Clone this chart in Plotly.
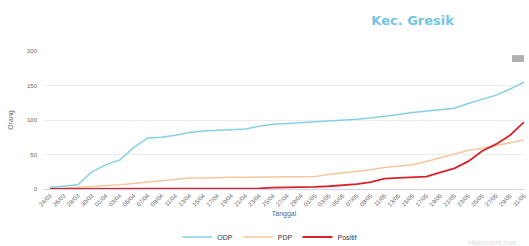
import plotly.graph_objects as go

tanggal = ["24/03", "26/03", "28/03", "30/03", "01/04", "03/04", "05/04", "07/04", "09/04",
           "11/04", "13/04", "15/04", "17/04", "19/04", "21/04", "23/04", "25/04", "27/04",
           "29/04", "01/05", "03/05", "05/05", "07/05", "09/05", "11/05", "13/05", "15/05",
           "17/05", "19/05", "21/05", "23/05", "25/05", "27/05", "29/05", "31/05"]

odp = [2, 4, 6, 25, 35, 42, 60, 74, 75, 78, 82, 84, 85, 86, 87, 91, 94, 95, 96, 97,
       98, 100, 101, 103, 105, 108, 111, 113, 115, 117, 124, 130, 136, 145, 155]
pdp = [0, 1, 2, 3, 4, 6, 8, 10, 13, 15, 16, 16, 17, 17, 17, 17, 17, 17, 17, 18,
       21, 23, 25, 28, 31, 33, 35, 40, 45, 50, 56, 59, 63, 68, 71]
positif = [0, 0, 0, 0, 0, 0, 0, 0, 0, 0, 0, 0, 0, 0, 0, 1, 2, 2, 3, 3,
           4, 5, 7, 10, 15, 16, 17, 18, 24, 30, 40, 55, 65, 78, 97]

fig = go.Figure()
fig.add_trace(go.Scatter(x=tanggal, y=odp, name="ODP", mode="lines",
                         line=dict(color="#86d0e6", width=1.5), cliponaxis=False))
fig.add_trace(go.Scatter(x=tanggal, y=pdp, name="PDP", mode="lines",
                         line=dict(color="#f6c79c", width=1.5), cliponaxis=False))
fig.add_trace(go.Scatter(x=tanggal, y=positif, name="Positif", mode="lines",
                         line=dict(color="#d8232a", width=1.8), cliponaxis=False))

fig.update_layout(
    width=529, height=246,
    margin=dict(l=44, r=2, t=51, b=57),
    paper_bgcolor="white", plot_bgcolor="white",
    title=dict(text="<b>Kec. Gresik</b>", x=0.78, xanchor="center",
               y=1 - 20 / 246, yanchor="middle", yref="container",
               font=dict(family="DejaVu Sans", size=13, color="#72c4e2")),
    showlegend=True,
    legend=dict(orientation="h", x=0.51, xanchor="center", xref="container",
                y=1 - 237 / 246, yanchor="middle", yref="container",
                font=dict(size=7, color="#333333"), itemwidth=30,
                tracegroupgap=0, bgcolor="rgba(0,0,0,0)"),
    font=dict(family="Liberation Sans", color="#666666"),
)
fig.update_xaxes(type="category", range=[-0.43, 34], tickangle=-45,
                 tickfont=dict(size=6, color="#666666"), showgrid=False,
                 showline=True, linecolor="#ccd6eb", ticks="",
                 title=dict(text="Tanggal", font=dict(size=7, color="#666666"), standoff=4))
fig.update_yaxes(range=[0, 200], tickvals=[0, 50, 100, 150, 200],
                 tickfont=dict(size=6, color="#666666"), gridcolor="#ececec",
                 zeroline=False, showline=False, ticklabelstandoff=6,
                 title=dict(text="Orang", font=dict(size=7, color="#666666"), standoff=12))

fig.add_shape(type="rect", xref="paper", yref="paper",
              x0=0.975, x1=1.0, y0=0.92, y1=0.97,
              fillcolor="#b0b0b0", line=dict(width=0))
fig.add_annotation(text="Highcharts.com", xref="paper", yref="paper",
                   x=0.99, y=-0.39, xanchor="right", yanchor="middle",
                   showarrow=False, font=dict(size=7, color="#dddddd"))

fig.write_html("out.html", config={"displayModeBar": False},
               post_script="document.body.style.margin='0';document.body.style.padding='0';")
